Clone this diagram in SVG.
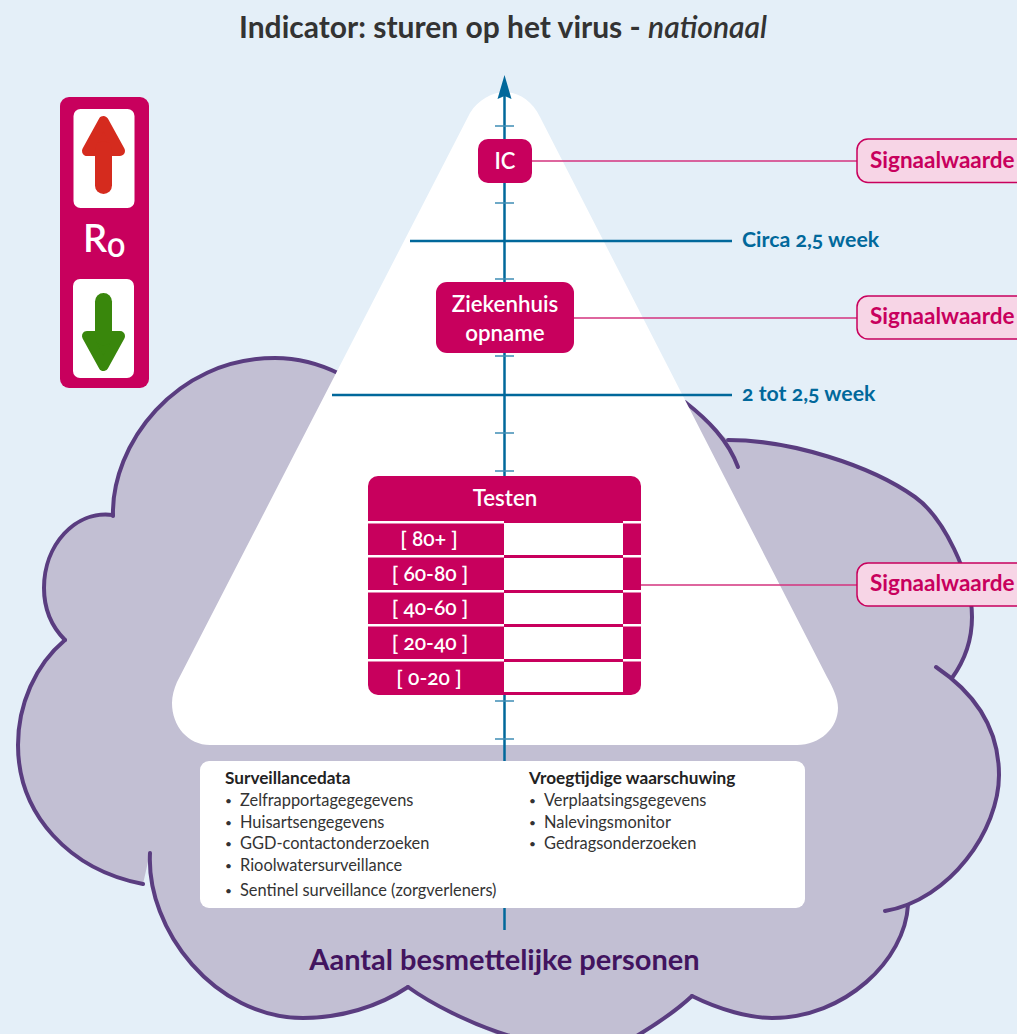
<svg xmlns="http://www.w3.org/2000/svg" width="1017" height="1034" viewBox="0 0 1017 1034">
<style>
text{font-family:"Lato","Noto Sans",sans-serif;font-variant-numeric:oldstyle-nums}
.cl{fill:none;stroke:#5a3d80;stroke-width:4;stroke-linecap:round;stroke-linejoin:round}
.ax{stroke:#01689b;fill:none}
.tick{stroke:#3f8db5;stroke-width:1.3;fill:none}
.pk{fill:#c8005d}
.conn{stroke:#d4357f;stroke-width:1.3;fill:none}
.w{fill:#fff}
.wt{fill:#fff;font-weight:600;text-anchor:middle}
.sigb{fill:#f7d5e6;stroke:#c8005d;stroke-width:1.5}
.sigt{fill:#c8005d;font-size:22.500px;font-weight:700}
.wk{fill:#01689b;font-size:21.300px;font-weight:700}
.d{fill:#333;font-size:16.400px}
.bu{fill:#333;font-size:12px}
.db{fill:#222;font-size:17.200px;font-weight:700}
</style>
<rect width="1017" height="1034" fill="#e4eff8"/>
<text x="503" y="37.500" text-anchor="middle" font-size="30" font-weight="700" fill="#333">Indicator: sturen op het virus - <tspan font-style="italic" font-weight="600">nationaal</tspan></text>
<g id="cloud">
<path fill="#c2bfd3" d="M340 374L685 402L728 440C790 440 870 465 915 497C943 517 972 575 972 617C972 640 965 660 952 678L936 667C985 700 999 740 999 775C999 830 950 900 885 911L908 905C905 960 845 1018 772 1018C750 1018 720 1010 692 996L635 1040L510 1040C470 1024 430 1003 408 987C378 1007 340 1018 303 1018C215 1018 146 930 150 853L143 884C70 870 18 815 18 745C18 705 35 665 65 640C53 628 44 610 44 588C44 545 75 510 113 515C111 445 175 358 275 358C297 358 320 364 340 374Z"/>
<path class="cl" d="M113 516C111 445 175 358 275 358C297 358 320 364 340 374"/>
<path class="cl" d="M113 515C75 510 44 545 44 588C44 610 53 628 65 640"/>
<path class="cl" d="M65 640C35 665 18 705 18 745C18 815 70 870 143 884"/>
<path class="cl" d="M150 853C146 930 215 1018 303 1018C340 1018 378 1007 408 987"/>
<path class="cl" d="M408 987C430 1003 470 1024 510 1036"/>
<path class="cl" d="M692 996C675 1012 655 1025 635 1037"/>
<path class="cl" d="M692 996C720 1010 750 1018 772 1018C845 1018 905 960 908 905"/>
<path class="cl" d="M885 911C950 900 999 830 999 775C999 740 985 700 936 667"/>
<path class="cl" d="M952 678C965 660 972 640 972 617C972 575 943 517 915 497C870 465 790 440 728 440"/>
<path class="cl" d="M685 402C708 420 728 440 738 467"/>
</g>
<path id="pyramid" class="w" d="M470 113C478 100 492 92 505 92C518 92 532 100 540 117L827 677C833 688 838 698 838 708C838 728 820 745 797 745L210 745C188 745 172 726 172 703C172 696 174 689 177 682Z"/>
<g id="connectors">
<path class="ax" stroke-width="2.500" d="M504.500 95V930"/>
<path fill="#01689b" d="M504.500 75L511.500 99L504.500 96L497.500 99Z"/>
<path class="tick" d="M495 126H514M495 203H514M495 279H514M495 356H514M495 433H514M495 471H514M495 701H514M495 739H514"/>
<path class="ax" stroke-width="2.500" d="M410 241H732M332 395H732"/>
<path class="conn" d="M532 161H857M574 318H857M641 585H857"/>
</g>
<g id="r0">
<rect class="pk" x="60" y="97" width="89" height="291" rx="9"/>
<rect class="w" x="73.500" y="109" width="61" height="99" rx="7"/>
<rect class="w" x="73" y="279" width="61" height="99" rx="7"/>
<path fill="#d52b1e" stroke="#d52b1e" stroke-width="10" stroke-linejoin="round" d="M103.500 121L87 151H120Z"/>
<path stroke="#d52b1e" stroke-width="17" stroke-linecap="round" fill="none" d="M103.500 150V185.500"/>
<path fill="#39870c" stroke="#39870c" stroke-width="10" stroke-linejoin="round" d="M103.500 366L87 336H120Z"/>
<path stroke="#39870c" stroke-width="17" stroke-linecap="round" fill="none" d="M103.500 337V301.500"/>
<text x="83" y="252" font-size="38" font-weight="600" fill="#fff">R<tspan font-size="33" dy="5">0</tspan></text>
</g>
<g id="ic"><rect class="pk" x="478" y="139" width="54" height="44" rx="10"/><text class="wt" x="505" y="169" font-size="22">IC</text></g>
<g id="ziekenhuis"><rect class="pk" x="436" y="282" width="138" height="71" rx="11"/><text class="wt" x="505" y="312" font-size="22.300">Ziekenhuis</text><text class="wt" x="505" y="341" font-size="22.300">opname</text></g>
<g id="testen">
<rect class="pk" x="368" y="476" width="273" height="219" rx="10"/>
<text class="wt" x="505" y="506" font-size="22.300">Testen</text>
<path fill="#fff" d="M368 521h136v2.500h-136zM368 555h136v2.500h-136zM368 590h136v2.500h-136zM368 624h136v2.500h-136zM368 659h136v2.500h-136zM623 521h18v2.500h-18zM623 555h18v2.500h-18zM623 590h18v2.500h-18zM623 624h18v2.500h-18zM623 659h18v2.500h-18z"/>
<rect class="w" x="504" y="523" width="119" height="32"/>
<rect class="w" x="504" y="558" width="119" height="32"/>
<rect class="w" x="504" y="593" width="119" height="31"/>
<rect class="w" x="504" y="627" width="119" height="32"/>
<rect class="w" x="504" y="662" width="119" height="30"/>
<text class="wt" x="429" y="546" font-size="21">[ 80+ ]</text>
<text class="wt" x="430" y="581" font-size="21">[ 60-80 ]</text>
<text class="wt" x="430" y="615" font-size="21">[ 40-60 ]</text>
<text class="wt" x="430" y="650" font-size="21">[ 20-40 ]</text>
<text class="wt" x="429" y="685" font-size="21">[ 0-20 ]</text>
</g>
<g id="signaal-ic"><rect class="sigb" x="857" y="139" width="180" height="43.500" rx="11"/><text class="sigt" x="870" y="168">Signaalwaarde</text></g>
<g id="signaal-zh"><rect class="sigb" x="857" y="296" width="180" height="43" rx="11"/><text class="sigt" x="870" y="324">Signaalwaarde</text></g>
<g id="signaal-test"><rect class="sigb" x="857" y="563" width="180" height="43" rx="11"/><text class="sigt" x="870" y="591">Signaalwaarde</text></g>
<g id="week1"><text class="wk" x="742" y="247">Circa 2,5 week</text></g>
<g id="week2"><text class="wk" x="742" y="401">2 tot 2,5 week</text></g>
<g id="data">
<rect class="w" x="200" y="761" width="605" height="147" rx="9"/>
<text class="db" x="225" y="784">Surveillancedata</text>
<text class="bu" x="225" y="805">•</text><text class="d" x="240" y="806">Zelfrapportagegegevens</text>
<text class="bu" x="225" y="827">•</text><text class="d" x="240" y="828">Huisartsengegevens</text>
<text class="bu" x="225" y="848">•</text><text class="d" x="240" y="849">GGD-contactonderzoeken</text>
<text class="bu" x="225" y="870">•</text><text class="d" x="240" y="871">Rioolwatersurveillance</text>
<text class="bu" x="225" y="895">•</text><text class="d" x="240" y="896">Sentinel surveillance (zorgverleners)</text>
<text class="db" x="529" y="784">Vroegtijdige waarschuwing</text>
<text class="bu" x="529" y="805">•</text><text class="d" x="544" y="806">Verplaatsingsgegevens</text>
<text class="bu" x="529" y="827">•</text><text class="d" x="544" y="828">Nalevingsmonitor</text>
<text class="bu" x="529" y="848">•</text><text class="d" x="544" y="849">Gedragsonderzoeken</text>
</g>
<text x="504.500" y="970" text-anchor="middle" font-size="29" font-weight="700" fill="#42145f">Aantal besmettelijke personen</text>
</svg>
